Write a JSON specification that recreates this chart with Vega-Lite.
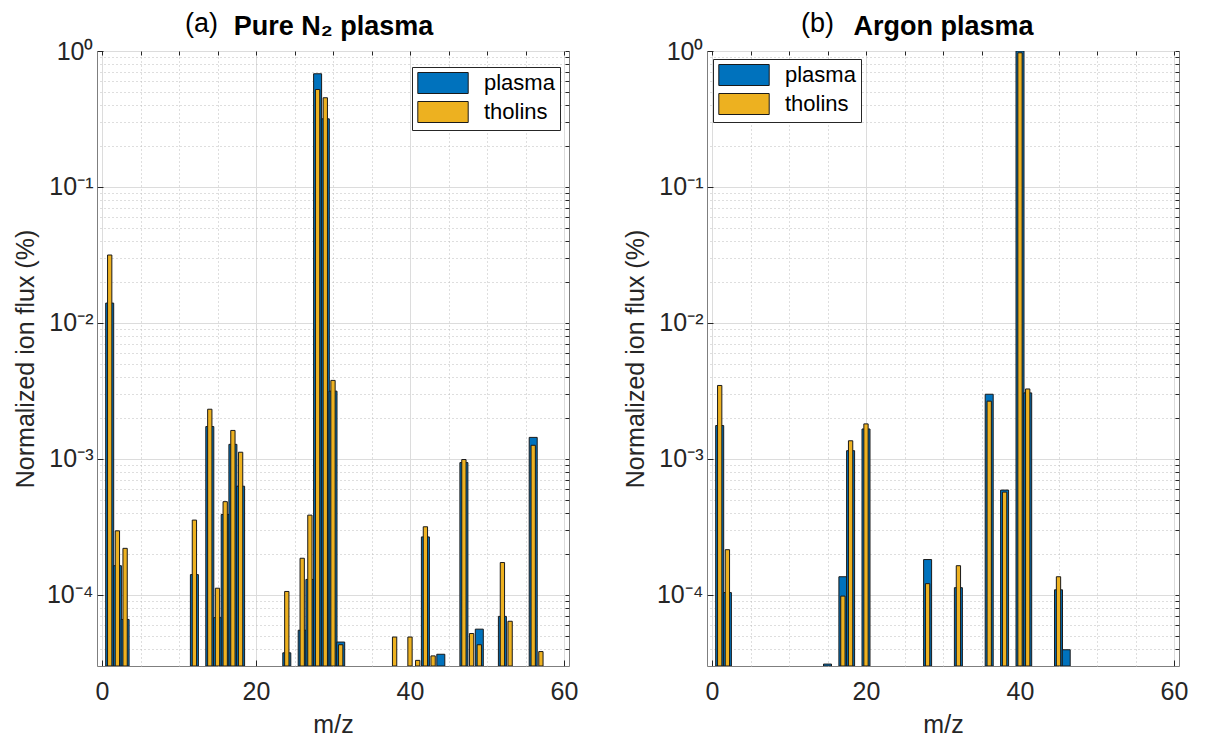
{
  "$schema": "https://vega.github.io/schema/vega-lite/v6.json",
  "background": "white",
  "padding": {"left": 12, "top": 8, "right": 5, "bottom": 5},
  "datasets": {
    "a": [
      {"mz": 1, "series": "plasma", "value": 0.0140},
      {"mz": 2, "series": "plasma", "value": 0.000164},
      {"mz": 3, "series": "plasma", "value": 0.000066},
      {"mz": 12, "series": "plasma", "value": 0.000141},
      {"mz": 14, "series": "plasma", "value": 0.00173},
      {"mz": 15, "series": "plasma", "value": 0.000068},
      {"mz": 16, "series": "plasma", "value": 0.00039},
      {"mz": 17, "series": "plasma", "value": 0.00128},
      {"mz": 18, "series": "plasma", "value": 0.00063},
      {"mz": 24, "series": "plasma", "value": 0.0000375},
      {"mz": 26, "series": "plasma", "value": 0.000055},
      {"mz": 27, "series": "plasma", "value": 0.00013},
      {"mz": 28, "series": "plasma", "value": 0.68},
      {"mz": 29, "series": "plasma", "value": 0.317},
      {"mz": 30, "series": "plasma", "value": 0.00315},
      {"mz": 31, "series": "plasma", "value": 0.000045},
      {"mz": 42, "series": "plasma", "value": 0.000267},
      {"mz": 44, "series": "plasma", "value": 0.0000366},
      {"mz": 47, "series": "plasma", "value": 0.00094},
      {"mz": 49, "series": "plasma", "value": 0.000056},
      {"mz": 52, "series": "plasma", "value": 0.0000695},
      {"mz": 56, "series": "plasma", "value": 0.00144},
      {"mz": 1, "series": "tholins", "value": 0.0316},
      {"mz": 2, "series": "tholins", "value": 0.000296},
      {"mz": 3, "series": "tholins", "value": 0.00022},
      {"mz": 12, "series": "tholins", "value": 0.000355},
      {"mz": 14, "series": "tholins", "value": 0.00232},
      {"mz": 15, "series": "tholins", "value": 0.000112},
      {"mz": 16, "series": "tholins", "value": 0.000485},
      {"mz": 17, "series": "tholins", "value": 0.00162},
      {"mz": 18, "series": "tholins", "value": 0.00112},
      {"mz": 24, "series": "tholins", "value": 0.000106},
      {"mz": 26, "series": "tholins", "value": 0.000186},
      {"mz": 27, "series": "tholins", "value": 0.000386},
      {"mz": 28, "series": "tholins", "value": 0.521},
      {"mz": 29, "series": "tholins", "value": 0.453},
      {"mz": 30, "series": "tholins", "value": 0.00378},
      {"mz": 31, "series": "tholins", "value": 0.000043},
      {"mz": 38, "series": "tholins", "value": 0.000049},
      {"mz": 40, "series": "tholins", "value": 0.000049},
      {"mz": 41, "series": "tholins", "value": 0.000033},
      {"mz": 42, "series": "tholins", "value": 0.000317},
      {"mz": 43, "series": "tholins", "value": 0.0000356},
      {"mz": 47, "series": "tholins", "value": 0.00099},
      {"mz": 48, "series": "tholins", "value": 0.000052},
      {"mz": 49, "series": "tholins", "value": 0.000043},
      {"mz": 52, "series": "tholins", "value": 0.000173},
      {"mz": 53, "series": "tholins", "value": 0.000064},
      {"mz": 56, "series": "tholins", "value": 0.00126},
      {"mz": 57, "series": "tholins", "value": 0.0000383}
    ],
    "b": [
      {"mz": 1, "series": "plasma", "value": 0.00176},
      {"mz": 2, "series": "plasma", "value": 0.000104},
      {"mz": 15, "series": "plasma", "value": 0.000031},
      {"mz": 17, "series": "plasma", "value": 0.000136},
      {"mz": 18, "series": "plasma", "value": 0.00115},
      {"mz": 20, "series": "plasma", "value": 0.00166},
      {"mz": 28, "series": "plasma", "value": 0.000182},
      {"mz": 32, "series": "plasma", "value": 0.000113},
      {"mz": 36, "series": "plasma", "value": 0.00299},
      {"mz": 38, "series": "plasma", "value": 0.00059},
      {"mz": 40, "series": "plasma", "value": 1.0},
      {"mz": 41, "series": "plasma", "value": 0.00306},
      {"mz": 45, "series": "plasma", "value": 0.000109},
      {"mz": 46, "series": "plasma", "value": 0.0000395},
      {"mz": 1, "series": "tholins", "value": 0.00347},
      {"mz": 2, "series": "tholins", "value": 0.000215},
      {"mz": 17, "series": "tholins", "value": 0.000098},
      {"mz": 18, "series": "tholins", "value": 0.00136},
      {"mz": 20, "series": "tholins", "value": 0.00181},
      {"mz": 28, "series": "tholins", "value": 0.000121},
      {"mz": 32, "series": "tholins", "value": 0.000164},
      {"mz": 36, "series": "tholins", "value": 0.00266},
      {"mz": 38, "series": "tholins", "value": 0.00057},
      {"mz": 40, "series": "tholins", "value": 0.97},
      {"mz": 41, "series": "tholins", "value": 0.00327},
      {"mz": 45, "series": "tholins", "value": 0.000136}
    ]
  },
  "config": {
    "font": "Liberation Sans",
    "view": {"stroke": "#7f7f7f", "strokeWidth": 1},
    "axis": {
      "domain": false,
      "labelFont": "Liberation Sans",
      "titleFont": "Liberation Sans",
      "labelFontSize": 25,
      "titleFontSize": 25,
      "titleFontWeight": "normal",
      "labelColor": "#262626",
      "titleColor": "#262626",
      "tickColor": "#262626"
    },
    "legend": {
      "labelFont": "Liberation Sans",
      "labelFontSize": 22,
      "labelColor": "#000000",
      "symbolType": "M-2.4,-1H2.4V1H-2.4Z",
      "symbolSize": 441,
      "symbolStrokeColor": "#1a1a1a",
      "symbolStrokeWidth": 1,
      "symbolOffset": 15,
      "labelOffset": 30,
      "rowPadding": 3,
      "padding": 5,
      "strokeColor": "#262626",
      "fillColor": "white",
      "cornerRadius": 0,
      "title": null
    }
  },
  "spacing": 43,
  "resolve": {
    "scale": {"color": "independent", "x": "independent", "y": "independent"},
    "legend": {"color": "independent"}
  },
  "hconcat": [
    {
      "width": 472,
      "height": 615,
      "data": {"name": "a"},
      "resolve": {"axis": {"x": "independent", "y": "independent"}},
      "layer": [
        {
          "transform": [{"filter": "datum.series == 'plasma'"}],
          "mark": {"type": "bar", "width": 8, "stroke": "#1a1a1a", "strokeWidth": 1, "clip": true},
          "encoding": {
            "x": {"field": "mz", "type": "quantitative",
              "scale": {"domain": [0, 60], "nice": false, "zero": false},
              "axis": {"orient": "top", "values": [0,5,10,15,20,25,30,35,40,45,50,55,60], "labels": false, "tickSize": -4,
                "grid": true, "gridDash": [1, 3], "gridColor": "#bdbdbd",
                "title": "Pure N₂ plasma", "titleFontWeight": "bold", "titleFontSize": 27, "titleColor": "#000000", "titlePadding": 10}},
            "y": {"field": "value", "type": "quantitative",
              "scale": {"type": "log", "domain": [0.00003, 1], "nice": false},
              "axis": {"orient": "right", "values": [0.00004,0.00005,0.00006,0.00007,0.00008,0.00009,0.0001,0.0002,0.0003,0.0004,0.0005,0.0006,0.0007,0.0008,0.0009,0.001,0.002,0.003,0.004,0.005,0.006,0.007,0.008,0.009,0.01,0.02,0.03,0.04,0.05,0.06,0.07,0.08,0.09,0.1,0.2,0.3,0.4,0.5,0.6,0.7,0.8,0.9,1],
                "labels": false, "tickSize": -4, "grid": true, "gridDash": [1, 3], "gridColor": "#bdbdbd",
                "title": "(a)", "titleAngle": 0, "titleX": -368, "titleY": -20, "titleAlign": "center", "titleBaseline": "alphabetic",
                "titleFontSize": 27, "titleColor": "#000000"}},
            "y2": {"datum": 0.00003},
            "color": {"field": "series", "type": "nominal",
              "scale": {"domain": ["plasma", "tholins"], "range": ["#0072BD", "#EDB120"]},
              "legend": {"orient": "none", "legendX": 315, "legendY": 16}}
          }
        },
        {
          "transform": [{"filter": "datum.series == 'tholins'"}],
          "mark": {"type": "bar", "width": 4.3, "stroke": "#1a1a1a", "strokeWidth": 1, "clip": true},
          "encoding": {
            "x": {"field": "mz", "type": "quantitative",
              "scale": {"domain": [0, 60], "nice": false, "zero": false},
              "axis": {"orient": "bottom", "values": [0, 20, 40, 60], "tickSize": -6, "labelPadding": 19,
                "grid": true, "gridColor": "#dcdcdc", "title": "m/z", "titlePadding": 8}},
            "y": {"field": "value", "type": "quantitative",
              "scale": {"type": "log", "domain": [0.00003, 1], "nice": false},
              "axis": {"orient": "left", "values": [0.0001, 0.001, 0.01, 0.1, 1], "tickSize": -6, "labelPadding": 10,
                "labelExpr": "datum.value > 0.5 ? '10⁰' : datum.value > 0.05 ? '10⁻¹' : datum.value > 0.005 ? '10⁻²' : datum.value > 0.0005 ? '10⁻³' : '10⁻⁴'",
                "grid": true, "gridColor": "#dcdcdc", "title": "Normalized ion flux (%)", "titlePadding": 8}},
            "y2": {"datum": 0.00003},
            "color": {"field": "series", "type": "nominal",
              "scale": {"domain": ["plasma", "tholins"], "range": ["#0072BD", "#EDB120"]},
              "legend": {"orient": "none", "legendX": 315, "legendY": 16}}
          }
        }
      ]
    },
    {
      "width": 472,
      "height": 615,
      "data": {"name": "b"},
      "resolve": {"axis": {"x": "independent", "y": "independent"}},
      "layer": [
        {
          "transform": [{"filter": "datum.series == 'plasma'"}],
          "mark": {"type": "bar", "width": 8, "stroke": "#1a1a1a", "strokeWidth": 1, "clip": true},
          "encoding": {
            "x": {"field": "mz", "type": "quantitative",
              "scale": {"domain": [0, 60], "nice": false, "zero": false},
              "axis": {"orient": "top", "values": [0,5,10,15,20,25,30,35,40,45,50,55,60], "labels": false, "tickSize": -4,
                "grid": true, "gridDash": [1, 3], "gridColor": "#bdbdbd",
                "title": "Argon plasma", "titleFontWeight": "bold", "titleFontSize": 27, "titleColor": "#000000", "titlePadding": 10}},
            "y": {"field": "value", "type": "quantitative",
              "scale": {"type": "log", "domain": [0.00003, 1], "nice": false},
              "axis": {"orient": "right", "values": [0.00004,0.00005,0.00006,0.00007,0.00008,0.00009,0.0001,0.0002,0.0003,0.0004,0.0005,0.0006,0.0007,0.0008,0.0009,0.001,0.002,0.003,0.004,0.005,0.006,0.007,0.008,0.009,0.01,0.02,0.03,0.04,0.05,0.06,0.07,0.08,0.09,0.1,0.2,0.3,0.4,0.5,0.6,0.7,0.8,0.9,1],
                "labels": false, "tickSize": -4, "grid": true, "gridDash": [1, 3], "gridColor": "#bdbdbd",
                "title": "(b)", "titleAngle": 0, "titleX": -362, "titleY": -20, "titleAlign": "center", "titleBaseline": "alphabetic",
                "titleFontSize": 27, "titleColor": "#000000"}},
            "y2": {"datum": 0.00003},
            "color": {"field": "series", "type": "nominal",
              "scale": {"domain": ["plasma", "tholins"], "range": ["#0072BD", "#EDB120"]},
              "legend": {"orient": "none", "legendX": 6, "legendY": 8}}
          }
        },
        {
          "transform": [{"filter": "datum.series == 'tholins'"}],
          "mark": {"type": "bar", "width": 4.3, "stroke": "#1a1a1a", "strokeWidth": 1, "clip": true},
          "encoding": {
            "x": {"field": "mz", "type": "quantitative",
              "scale": {"domain": [0, 60], "nice": false, "zero": false},
              "axis": {"orient": "bottom", "values": [0, 20, 40, 60], "tickSize": -6, "labelPadding": 19,
                "grid": true, "gridColor": "#dcdcdc", "title": "m/z", "titlePadding": 8}},
            "y": {"field": "value", "type": "quantitative",
              "scale": {"type": "log", "domain": [0.00003, 1], "nice": false},
              "axis": {"orient": "left", "values": [0.0001, 0.001, 0.01, 0.1, 1], "tickSize": -6, "labelPadding": 10,
                "labelExpr": "datum.value > 0.5 ? '10⁰' : datum.value > 0.05 ? '10⁻¹' : datum.value > 0.005 ? '10⁻²' : datum.value > 0.0005 ? '10⁻³' : '10⁻⁴'",
                "grid": true, "gridColor": "#dcdcdc", "title": "Normalized ion flux (%)", "titlePadding": 8}},
            "y2": {"datum": 0.00003},
            "color": {"field": "series", "type": "nominal",
              "scale": {"domain": ["plasma", "tholins"], "range": ["#0072BD", "#EDB120"]},
              "legend": {"orient": "none", "legendX": 6, "legendY": 8}}
          }
        }
      ]
    }
  ]
}
